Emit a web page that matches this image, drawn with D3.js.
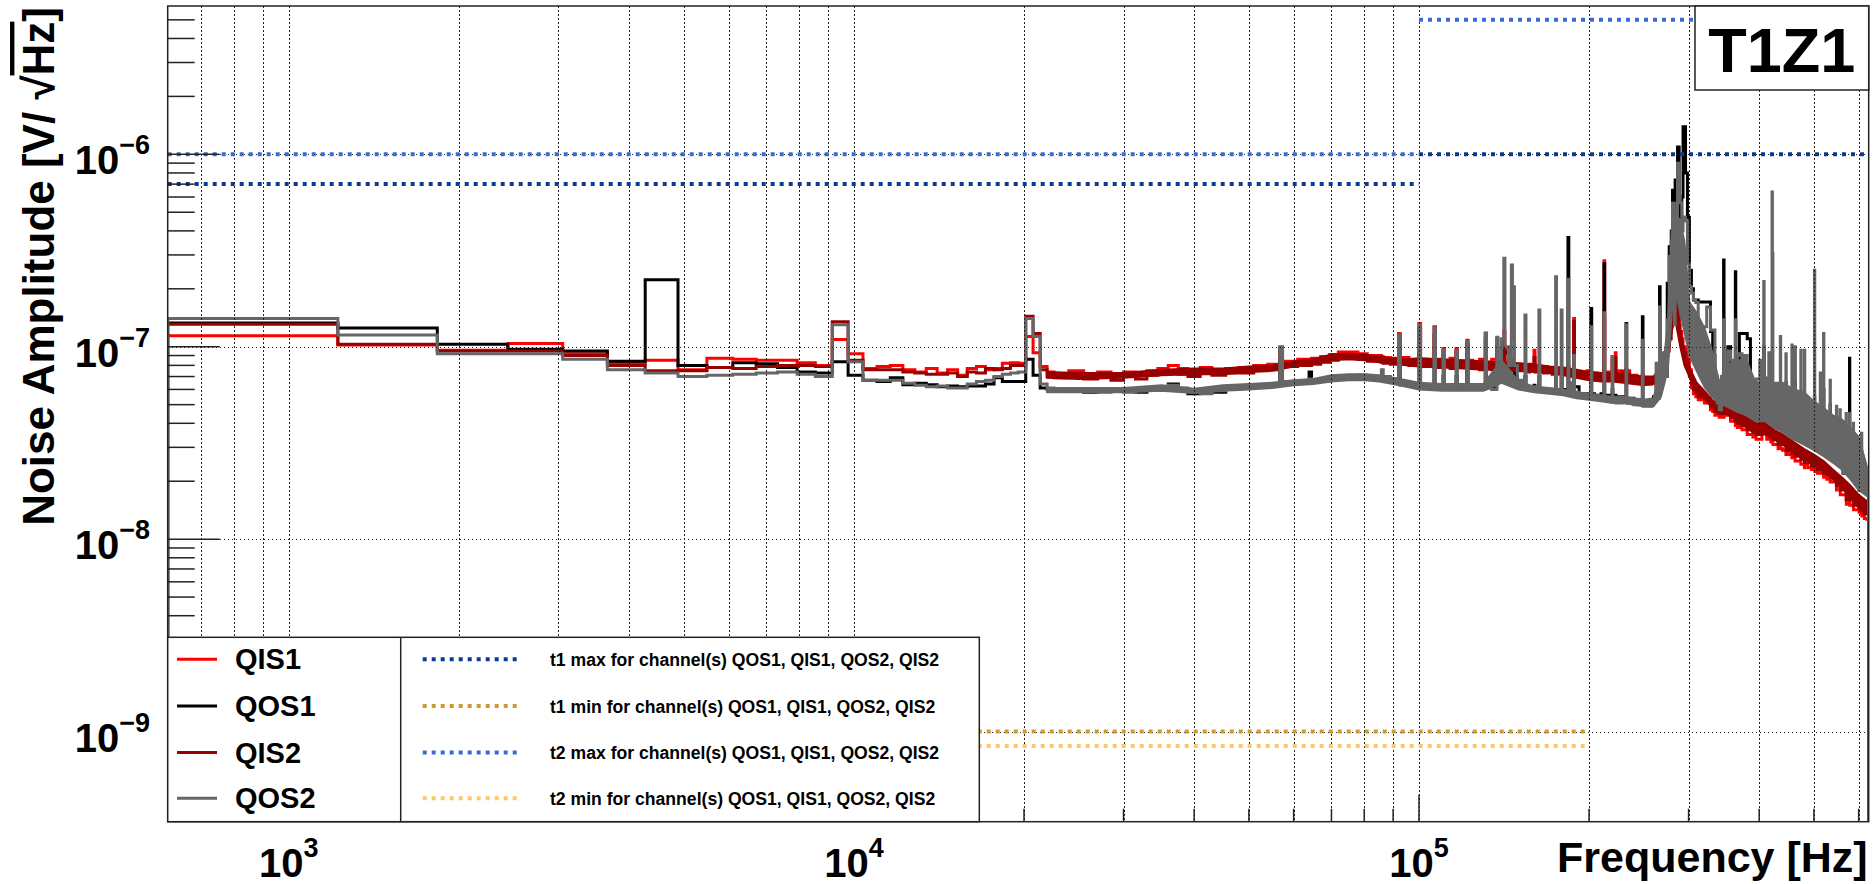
<!DOCTYPE html>
<html>
<head>
<meta charset="utf-8">
<script src="https://cdn.jsdelivr.net/npm/d3@7"></script>
<style>
  html, body { margin: 0; padding: 0; background: #fff; }
  svg { display: block; font-family: "Liberation Sans", Arial, Helvetica, sans-serif; font-weight: bold; }
</style>
</head>
<body>
<div id="vis"></div>
<script>
// Constants for the frame
const FRAME_WIDTH = 1875;
const FRAME_HEIGHT = 884;
const PLOT = {left: 167.7, top: 6, right: 1868.7, bottom: 821.7};

// axis ranges
const F_MIN = 610.35, F_MAX = 625000;
const V_MIN = 3.4e-10, V_MAX = 5.9e-6;
const UNIT = 1e-8; // series values below are in units of 1e-8 V/sqrt(Hz)

// lower edge of each histogram bin [Hz]
const binEdges = [
  610.35, 1221, 1831, 2441, 3052, 3662, 4272, 4883, 5493, 6104,
  6714, 7324, 7935, 8545, 9155, 9766, 10376, 10986, 11597, 12207,
  12817, 13428, 14038, 14648, 15259, 15869, 16479, 17090, 17700, 18310,
  18921, 19531, 20142, 20752, 21362, 21973, 22600, 24000, 25500, 27000,
  28500, 30000, 31500, 33000, 34500, 36000, 37500, 39000, 41000, 43000,
  45500, 48000, 51000, 54000, 56700, 57350, 61000, 63900, 64550, 67000,
  69500, 72000, 75000, 78000, 81000, 85800, 86450, 89000, 92000, 92650,
  96000, 100000, 100650, 103500, 106300, 106950, 110300, 110950, 113500, 116300,
  116950, 121500, 122150, 124500, 128000, 131000, 131650, 134500, 137300, 137950,
  140000, 141300, 141950, 144000, 145700, 146350, 146900, 147550, 149300, 152000,
  154000, 154650, 157000, 159800, 160450, 163000, 163650, 166000, 169000, 172000,
  174500, 175150, 178500, 179150, 181500, 183500, 184150, 185500, 187800, 188450,
  192000, 196000, 198500, 201500, 202150, 204500, 207000, 210000, 212500, 213150,
  216000, 219700, 220350, 222500, 223150, 226000, 229000, 232500, 233150, 236000,
  240000, 243000, 246000, 248500, 249150, 252000, 255000, 258000, 260000, 262800,
  263450, 266500, 267150, 270000, 272500, 275000, 277200, 279500, 281000, 283200,
  284000, 285000, 286800, 288700, 290000, 291800, 293300, 296300, 298600, 301000,
  303500, 306000, 309000, 312000, 316000, 320000, 323000, 328000, 331000, 334000,
  337000, 340000, 343000, 346000, 346650, 349500, 352000, 356000, 360000, 363000,
  363650, 366000, 369000, 373000, 377000, 381000, 386000, 390000, 395000, 401000,
  404500, 407500, 408150, 412500, 416000, 419500, 421500, 422150, 423000, 427500,
  432000, 436000, 436650, 440000, 446000, 446650, 451000, 457000, 457650, 463000,
  463650, 469000, 474000, 474650, 481000, 481650, 488000, 495000, 501000, 501650,
  507000, 513000, 513650, 520000, 520650, 527000, 534000, 534650, 541000, 548000,
  548650, 556000, 556650, 563000, 570000, 570650, 578000, 578650, 587000, 587650,
  595000, 601000, 607000, 607650, 614000, 620000
];

const qis1 = [
  11.4, 10.2, 9.6, 10.4, 9.2, 8.2, 8.5, 7.6, 8.7, 8.6,
  8.5, 8.5, 8.25, 8.0, 10.9, 9.2, 7.7, 7.9, 8.0, 7.6,
  7.4, 7.7, 7.3, 7.6, 7.1, 7.7, 7.9, 7.6, 7.7, 8.2,
  8.25, 8.2, 11.3, 9.3, 7.9, 7.4, 7.2, 7.5, 7.2, 7.4,
  7.1, 7.4, 7.1, 7.5, 7.7, 8.0, 7.7, 7.5, 7.8, 7.6,
  7.7, 7.8, 8.0, 8.1, 9.5, 8.4, 8.6, 8.5, 8.7, 8.9,
  9.1, 9.4, 9.4, 9.2, 9.0, 8.9, 8.8, 8.7, 11.7, 8.8,
  8.5, 13.2, 8.6, 8.4, 12.7, 8.6, 9.8, 8.4, 8.7, 9.8,
  8.4, 10.8, 8.5, 8.2, 8.6, 11.8, 8.3, 8.6, 11.0, 8.3,
  8.4, 12.0, 8.0, 8.2, 8.5, 7.9, 8.1, 7.8, 8.1, 7.8,
  8.0, 7.8, 8.1, 9.6, 7.8, 8.0, 7.7, 7.9, 7.6, 7.8,
  7.7, 7.5, 7.7, 7.4, 7.7, 7.9, 7.4, 7.6, 14.0, 7.3,
  7.4, 7.1, 7.5, 7.2, 7.0, 7.3, 7.0, 7.2, 28.0, 7.1,
  7.4, 8.9, 7.2, 9.3, 7.1, 7.5, 7.2, 7.6, 7.5, 7.0,
  7.1, 6.8, 7.0, 7.1, 6.8, 6.6, 6.8, 6.6, 6.9, 7.1,
  6.9, 8.3, 8.2, 8.8, 9.3, 10.3, 12.5, 16.0, 20.0, 28.0,
  19.0, 18.0, 15.5, 13.0, 12.0, 11.0, 10.0, 9.5, 8.5, 7.6,
  6.1, 5.7, 5.5, 5.3, 5.4, 5.1, 5.2, 4.7, 4.6, 4.4,
  4.5, 4.3, 4.4, 4.3, 4.5, 4.4, 4.9, 4.1, 4.1, 3.9,
  4.0, 3.8, 3.9, 3.7, 3.7, 3.5, 3.5, 3.4, 3.3, 3.3,
  4.6, 4.1, 3.6, 3.3, 3.4, 3.2, 3.5, 3.2, 3.1, 3.1,
  2.95, 3.0, 2.95, 2.9, 2.75, 2.85, 2.75, 2.65, 2.75, 2.55,
  2.55, 2.55, 2.45, 2.45, 2.35, 2.45, 2.35, 2.3, 2.35, 2.25,
  2.2, 2.25, 2.2, 2.1, 2.2, 2.05, 2.0, 1.98, 1.98, 1.8,
  1.9, 1.8, 1.7, 1.7, 1.6, 1.52, 1.56, 1.5, 1.47, 1.42,
  1.42, 1.38, 1.36, 1.32, 1.28, 1.27
];

const qos1 = [
  13.3, 12.5, 10.3, 9.7, 9.5, 8.4, 22.3, 8.0, 7.8, 8.25,
  8.15, 7.8, 7.4, 7.3, 8.35, 7.1, 6.7, 6.6, 6.9, 6.35,
  6.45, 6.35, 6.2, 6.25, 6.2, 6.25, 6.25, 6.4, 6.9, 6.6,
  6.6, 6.6, 8.6, 7.1, 6.1, 6.0, 5.9, 6.0, 5.8, 5.9,
  6.0, 5.9, 5.8, 6.0, 6.1, 6.4, 6.0, 5.7, 5.8, 5.8,
  6.0, 6.1, 6.2, 6.3, 8.5, 6.5, 6.6, 7.4, 6.7, 6.8,
  6.9, 7.0, 7.0, 7.1, 7.0, 7.0, 6.9, 6.8, 8.5, 6.4,
  6.3, 9.0, 6.3, 6.2, 8.0, 6.1, 7.0, 6.1, 6.2, 7.0,
  6.2, 7.5, 6.1, 6.0, 6.1, 8.0, 6.2, 6.1, 7.5, 7.5,
  8.5, 9.6, 9.3, 8.5, 8.0, 7.8, 7.6, 7.0, 6.5, 6.4,
  7.0, 6.2, 6.2, 6.3, 6.1, 7.0, 6.0, 6.0, 6.0, 6.0,
  7.5, 6.0, 7.0, 6.0, 6.0, 37.0, 6.0, 6.3, 7.5, 6.2,
  5.7, 5.6, 5.7, 15.8, 5.7, 5.6, 5.6, 5.7, 27.0, 5.6,
  5.6, 6.0, 5.5, 5.6, 5.5, 5.5, 5.5, 13.2, 5.4, 5.4,
  5.3, 5.3, 5.3, 14.3, 5.2, 5.1, 5.1, 5.3, 5.5, 7.0,
  5.5, 20.5, 7.0, 8.0, 7.0, 21.4, 33.1, 40.0, 65.0, 15.0,
  73.5, 60.0, 109.0, 50.0, 47.0, 60.0, 139.0, 80.0, 47.0, 25.0,
  20.0, 17.5, 17.5, 17.1, 17.1, 17.1, 17.1, 12.0, 9.0, 7.0,
  5.5, 5.3, 5.0, 28.2, 6.0, 6.0, 10.0, 8.0, 6.0, 24.5,
  7.0, 7.0, 11.7, 11.7, 11.7, 11.0, 6.5, 6.3, 6.0, 6.0,
  5.5, 10.0, 4.8, 5.0, 5.5, 4.6, 8.0, 6.0, 4.2, 4.0,
  4.5, 5.5, 4.0, 3.9, 6.5, 3.8, 3.9, 6.0, 3.8, 6.5,
  3.6, 3.5, 5.5, 3.7, 4.0, 3.5, 3.5, 3.4, 5.5, 3.4,
  3.3, 4.5, 3.3, 6.0, 3.4, 3.0, 5.0, 2.9, 2.6, 4.0,
  2.5, 3.8, 2.4, 2.2, 3.5, 2.3, 8.7, 2.2, 3.5, 2.1,
  2.5, 1.8, 2.8, 2.0, 1.9, 1.9
];

const qis2 = [
  13.1, 10.3, 9.5, 9.5, 9.0, 8.0, 7.5, 7.5, 7.8, 7.7,
  7.9, 8.0, 8.0, 7.9, 13.5, 8.5, 7.6, 7.6, 7.6, 7.4,
  7.3, 7.2, 7.2, 7.3, 7.0, 7.4, 7.3, 7.7, 7.6, 7.7,
  8.0, 8.0, 14.4, 11.7, 7.6, 7.0, 6.9, 7.0, 6.8, 7.0,
  6.7, 7.0, 6.8, 7.1, 7.2, 7.4, 7.2, 7.0, 7.3, 7.1,
  7.3, 7.3, 7.5, 7.6, 9.9, 7.9, 8.0, 8.0, 8.1, 8.3,
  8.5, 8.7, 8.8, 8.6, 8.4, 8.3, 8.2, 8.1, 11.0, 8.1,
  8.0, 12.5, 7.9, 8.1, 11.5, 7.8, 9.5, 8.0, 7.7, 9.5,
  8.0, 10.3, 7.7, 7.9, 7.6, 11.0, 7.9, 7.6, 10.0, 7.9,
  7.8, 10.0, 7.9, 7.6, 8.3, 7.8, 7.5, 7.8, 7.5, 7.8,
  7.7, 7.4, 7.8, 8.8, 7.4, 7.6, 7.7, 7.3, 7.6, 7.2,
  7.5, 7.6, 7.3, 7.5, 7.2, 7.6, 7.2, 7.5, 13.5, 7.1,
  7.3, 6.9, 7.2, 7.2, 6.9, 7.2, 6.9, 7.1, 14.0, 7.0,
  7.2, 8.5, 7.0, 8.8, 7.2, 7.0, 7.4, 7.6, 7.2, 7.0,
  6.7, 6.9, 6.6, 6.9, 6.5, 6.7, 6.4, 6.7, 6.5, 6.8,
  6.6, 7.5, 7.4, 8.0, 8.4, 9.5, 11.0, 15.0, 19.0, 20.0,
  16.5, 16.0, 14.0, 12.0, 11.0, 10.0, 9.3, 8.5, 7.8, 7.0,
  6.4, 6.0, 5.8, 5.5, 5.7, 5.4, 5.4, 4.9, 4.8, 4.6,
  4.7, 4.5, 4.6, 4.5, 4.7, 4.6, 4.8, 4.3, 4.3, 4.1,
  4.2, 4.0, 4.1, 3.9, 3.9, 3.7, 3.7, 3.6, 3.5, 3.5,
  4.2, 4.3, 3.8, 3.5, 3.6, 3.4, 3.7, 3.4, 3.3, 3.3,
  3.1, 3.2, 3.1, 3.1, 2.9, 3.0, 2.9, 2.8, 2.9, 2.7,
  2.7, 2.7, 2.6, 2.6, 2.5, 2.6, 2.5, 2.4, 2.5, 2.4,
  2.3, 2.4, 2.3, 2.2, 2.3, 2.2, 2.1, 2.1, 2.1, 1.9,
  2.0, 1.9, 1.8, 1.8, 1.7, 1.6, 1.65, 1.6, 1.55, 1.5,
  1.5, 1.45, 1.45, 1.4, 1.35, 1.35
];

const qos2 = [
  14.0, 11.5, 9.2, 9.2, 8.6, 7.6, 7.3, 7.0, 7.1, 7.2,
  7.3, 7.4, 7.2, 7.0, 13.0, 8.35, 6.7, 6.7, 6.7, 6.45,
  6.3, 6.2, 6.25, 6.1, 6.1, 6.4, 6.6, 6.7, 7.0, 7.2,
  7.3, 7.4, 14.0, 11.3, 6.4, 6.1, 6.0, 5.9, 6.0, 5.8,
  5.9, 5.8, 5.9, 6.1, 6.0, 6.3, 6.1, 5.8, 5.7, 5.9,
  6.0, 6.2, 6.2, 6.4, 10.0, 6.6, 6.5, 6.8, 6.7, 6.7,
  6.9, 6.9, 7.0, 7.0, 6.9, 7.6, 7.0, 6.7, 11.5, 6.3,
  6.4, 13.0, 6.3, 6.2, 12.5, 6.1, 9.6, 6.1, 6.0, 9.6,
  6.2, 10.6, 6.0, 6.1, 6.0, 11.7, 6.1, 6.0, 11.2, 8.0,
  11.0, 28.8, 10.0, 8.0, 26.6, 11.0, 20.5, 8.0, 6.7, 6.3,
  14.6, 6.1, 6.1, 6.2, 6.0, 15.5, 5.9, 5.8, 5.8, 5.9,
  23.1, 5.9, 15.5, 5.8, 5.9, 22.4, 6.5, 6.0, 9.0, 5.8,
  5.6, 5.4, 5.5, 12.7, 5.5, 5.4, 5.4, 5.5, 15.0, 5.4,
  5.3, 8.9, 5.2, 5.4, 5.1, 5.1, 5.2, 13.0, 5.1, 5.1,
  5.0, 5.0, 5.0, 10.8, 4.9, 4.9, 4.9, 5.0, 5.2, 8.2,
  5.4, 16.1, 7.0, 9.3, 7.0, 13.8, 29.4, 35.0, 55.7, 13.0,
  45.0, 45.0, 89.8, 60.0, 56.0, 40.0, 47.3, 45.0, 27.1, 20.5,
  19.0, 17.5, 17.0, 12.7, 12.7, 12.7, 16.1, 12.2, 12.2, 7.0,
  5.1, 4.7, 7.0, 13.8, 5.5, 8.0, 9.5, 8.5, 6.0, 13.8,
  6.0, 9.0, 9.2, 6.7, 9.0, 6.8, 6.5, 6.4, 6.8, 8.5,
  5.8, 21.8, 5.0, 6.2, 9.3, 5.0, 63.8, 30.6, 6.2, 4.8,
  6.0, 11.3, 5.1, 4.5, 9.2, 4.0, 4.5, 10.2, 4.0, 10.0,
  3.8, 3.6, 9.6, 4.0, 9.6, 3.7, 3.6, 3.5, 25.0, 4.5,
  3.4, 7.3, 3.5, 11.7, 3.6, 3.0, 6.7, 3.0, 2.6, 4.9,
  2.6, 4.7, 2.4, 2.2, 4.5, 2.4, 4.5, 2.2, 4.0, 2.1,
  2.5, 1.8, 3.55, 2.0, 1.9, 1.88
];

// above ~22 kHz the bins are only a few pixels wide: the band each dense channel fills
const bandFreq = [
  21973, 25000, 30000, 35000, 40000, 45000, 50000, 55000, 60000, 65000,
  70000, 75000, 80000, 85000, 90000, 95000, 100000, 110000, 120000, 130000,
  140000, 150000, 160000, 170000, 180000, 190000, 200000, 210000, 220000, 230000,
  240000, 250000, 260000, 268000, 272000, 276000, 280000, 284000, 290000, 295000,
  301000, 310000, 320000, 330000, 340000, 350000, 365000, 380000, 395000, 410000,
  425000, 440000, 460000, 480000, 500000, 520000, 540000, 560000, 580000, 600000,
  625000
];
const qis2BandLo = [
  6.9, 6.8, 6.9, 7.1, 7.2, 7.2, 7.4, 7.5, 7.9, 8.1,
  8.5, 8.6, 8.5, 8.3, 8.2, 8.0, 7.9, 7.8, 7.7, 7.6,
  7.6, 7.5, 7.4, 7.3, 7.1, 6.9, 6.7, 6.6, 6.6, 6.5,
  6.4, 6.3, 6.4, 7.0, 7.8, 8.8, 12.0, 14.0, 10.0, 8.0,
  7.0, 5.8, 5.4, 4.8, 4.5, 4.5, 4.1, 3.8, 3.5, 3.5,
  3.3, 3.1, 2.85, 2.6, 2.45, 2.25, 2.05, 1.85, 1.65, 1.45,
  1.35
];
const qis2BandHi = [
  7.4, 7.3, 7.3, 7.6, 7.7, 7.7, 7.9, 8.0, 8.4, 8.6,
  9.1, 9.2, 9.1, 8.9, 8.7, 8.6, 8.7, 8.6, 8.5, 8.4,
  8.3, 8.2, 8.1, 7.9, 7.8, 7.6, 7.4, 7.3, 7.3, 7.2,
  7.1, 7.0, 7.0, 7.8, 8.8, 10.0, 16.0, 19.0, 12.0, 9.5,
  7.8, 6.5, 5.9, 5.3, 5.0, 5.0, 4.6, 4.3, 4.0, 4.0,
  3.7, 3.5, 3.2, 2.95, 2.75, 2.55, 2.3, 2.1, 1.9, 1.7,
  1.55
];
const qos2BandLo = [
  5.8, 5.8, 5.8, 5.9, 5.75, 5.9, 6.0, 6.1, 6.3, 6.4,
  6.6, 6.7, 6.7, 6.6, 6.4, 6.2, 6.0, 5.9, 5.9, 5.9,
  6.5, 6.0, 5.8, 5.7, 5.6, 5.4, 5.3, 5.2, 5.1, 5.1,
  5.0, 4.9, 4.9, 5.5, 6.5, 8.0, 15.0, 20.0, 15.0, 12.0,
  9.0, 7.5, 6.2, 5.5, 5.1, 4.9, 4.6, 4.4, 4.1, 4.1,
  3.8, 3.6, 3.3, 3.1, 2.9, 2.7, 2.5, 2.3, 2.05, 1.8,
  1.65
];
const qos2BandHi = [
  6.1, 6.1, 6.1, 6.3, 6.05, 6.3, 6.4, 6.5, 6.7, 6.8,
  7.1, 7.2, 7.2, 7.1, 6.9, 6.7, 6.5, 6.4, 6.4, 6.4,
  8.5, 6.6, 6.2, 6.1, 6.0, 5.8, 5.7, 5.6, 5.5, 5.5,
  5.4, 5.3, 5.4, 7.5, 9.0, 14.0, 40.0, 50.0, 45.0, 35.0,
  17.0, 15.0, 12.5, 9.5, 6.5, 8.0, 8.5, 8.5, 6.4, 7.0,
  6.5, 6.5, 6.0, 5.8, 5.2, 4.8, 4.4, 4.2, 3.8, 3.4,
  2.2
];

const seriesNames = ["QIS1", "QOS1", "QIS2", "QOS2"];
const seriesColors = ["#ff0000", "#000000", "#990000", "#666666"];
const seriesValues = [qis1, qos1, qis2, qos2];
const seriesBands = [null, null, [qis2BandLo, qis2BandHi], [qos2BandLo, qos2BandHi]];

// threshold lines: [fromHz, toHz, value]
const t1Max = [[F_MIN, 1e5, 7e-7], [1e5, F_MAX, 1e-6]];
const t1Min = [[F_MIN, 2e5, 1e-9]];
const t2Max = [[F_MIN, 1e5, 1e-6], [1e5, F_MAX, 5e-6]];
const t2Min = [[F_MIN, 2e5, 8.4e-10]];
const thresholdNames = ["t1 max", "t1 min", "t2 max", "t2 min"];
const thresholdColors = ["#0a3a94", "#cc9933", "#3a6bd4", "#ffc864"];
const thresholdSegs = [t1Max, t1Min, t2Max, t2Min];
const channelList = "QOS1, QIS1, QOS2, QIS2";

const SVG = d3.select("#vis")
  .append("svg")
  .attr("width", FRAME_WIDTH)
  .attr("height", FRAME_HEIGHT);

const X_SCALE = d3.scaleLog().domain([F_MIN, F_MAX]).range([PLOT.left, PLOT.right]);
const Y_SCALE = d3.scaleLog().domain([V_MIN, V_MAX]).range([PLOT.bottom, PLOT.top]);

const isDecade = v => Math.abs(Math.log10(v) - Math.round(Math.log10(v))) < 1e-6;

SVG.append("clipPath").attr("id", "plotclip")
  .append("rect")
  .attr("x", PLOT.left).attr("y", PLOT.top)
  .attr("width", PLOT.right - PLOT.left).attr("height", PLOT.bottom - PLOT.top);

// histograms, drawn as closed steps like ROOT "HIST"
const histLine = d3.line()
  .x(d => X_SCALE(d[0]))
  .y(d => Y_SCALE(d[1]))
  .curve(d3.curveStepAfter);

const bandArea = d3.area()
  .x((d, i) => X_SCALE(bandFreq[i]))
  .y0(d => Y_SCALE(d[0] * UNIT))
  .y1(d => Y_SCALE(d[1] * UNIT));

function histPoints(vals) {
  const pts = [[F_MIN, V_MIN]];
  vals.forEach((v, i) => pts.push([binEdges[i], v * UNIT]));
  pts.push([F_MAX, vals[vals.length - 1] * UNIT]);
  pts.push([F_MAX, V_MIN]);
  return pts;
}

const histG = SVG.append("g").attr("clip-path", "url(#plotclip)");
seriesValues.forEach((vals, i) => {
  if (seriesBands[i]) {
    const [lo, hi] = seriesBands[i];
    histG.append("path")
      .attr("d", bandArea(lo.map((v, j) => [v, hi[j]])))
      .attr("fill", seriesColors[i])
      .attr("stroke", seriesColors[i])
      .attr("stroke-width", 2);
  }
  histG.append("path")
    .attr("d", histLine(histPoints(vals)))
    .attr("fill", "none")
    .attr("stroke", seriesColors[i])
    .attr("stroke-width", 3)
    .attr("stroke-linejoin", "miter");
});

// grid
const xTicks = X_SCALE.ticks();
const yTicks = Y_SCALE.ticks().filter(v => v >= V_MIN && v <= V_MAX);
const gridG = SVG.append("g")
  .attr("stroke", "#222")
  .attr("stroke-width", 1)
  .attr("stroke-dasharray", "1.5,2.5")
  .attr("shape-rendering", "crispEdges");
gridG.selectAll(".gx").data(xTicks).enter().append("line")
  .attr("x1", d => Math.round(X_SCALE(d)) + 0.5).attr("x2", d => Math.round(X_SCALE(d)) + 0.5)
  .attr("y1", PLOT.top).attr("y2", PLOT.bottom);
gridG.selectAll(".gy").data(yTicks.filter(isDecade)).enter().append("line")
  .attr("x1", PLOT.left).attr("x2", PLOT.right)
  .attr("y1", d => Math.round(Y_SCALE(d)) + 0.5).attr("y2", d => Math.round(Y_SCALE(d)) + 0.5);

// thresholds
const thrG = SVG.append("g").attr("clip-path", "url(#plotclip)");
thresholdSegs.forEach((segs, i) => {
  thrG.selectAll(null).data(segs).enter().append("line")
    .attr("x1", d => X_SCALE(d[0])).attr("x2", d => X_SCALE(d[1]))
    .attr("y1", d => Y_SCALE(d[2])).attr("y2", d => Y_SCALE(d[2]))
    .attr("stroke", thresholdColors[i])
    .attr("stroke-width", 4)
    .attr("stroke-dasharray", "4,5");
});

// frame
SVG.append("rect")
  .attr("x", PLOT.left).attr("y", PLOT.top)
  .attr("width", PLOT.right - PLOT.left).attr("height", PLOT.bottom - PLOT.top)
  .attr("fill", "none").attr("stroke", "#222").attr("stroke-width", 1.5);

// x ticks (inside, pointing up)
const tickG = SVG.append("g").attr("stroke", "#222").attr("stroke-width", 1.5);
tickG.selectAll(".tx").data(xTicks).enter().append("line")
  .attr("x1", d => X_SCALE(d)).attr("x2", d => X_SCALE(d))
  .attr("y1", PLOT.bottom).attr("y2", d => PLOT.bottom - (isDecade(d) ? 27 : 13));
// y ticks (inside, pointing right)
tickG.selectAll(".ty").data(yTicks).enter().append("line")
  .attr("y1", d => Y_SCALE(d)).attr("y2", d => Y_SCALE(d))
  .attr("x1", PLOT.left).attr("x2", d => PLOT.left + (isDecade(d) ? 52 : 27));

// tick labels
xTicks.filter(isDecade).forEach(d => {
  const t = SVG.append("text")
    .attr("x", X_SCALE(d)).attr("y", 877)
    .attr("text-anchor", "middle").attr("font-size", 40);
  t.append("tspan").text("10");
  t.append("tspan").attr("dy", -20).attr("font-size", 27).text(Math.round(Math.log10(d)));
});
yTicks.filter(isDecade).forEach(d => {
  const t = SVG.append("text")
    .attr("x", 150).attr("y", Y_SCALE(d) + 20)
    .attr("text-anchor", "end").attr("font-size", 40);
  t.append("tspan").text("10");
  t.append("tspan").attr("dy", -20).attr("font-size", 27)
    .text("\u2212" + Math.abs(Math.round(Math.log10(d))));
});

// axis titles
SVG.append("text")
  .attr("x", PLOT.right - 1).attr("y", 872)
  .attr("text-anchor", "end").attr("font-size", 43)
  .text("Frequency [Hz]");

const yTitle = SVG.append("text")
  .attr("transform", "translate(54," + (PLOT.top + 1) + ") rotate(-90)")
  .attr("text-anchor", "end").attr("font-size", 44);
yTitle.append("tspan").text("Noise Amplitude [V/ \u221A");
yTitle.append("tspan").style("text-decoration", "overline").text("Hz");
yTitle.append("tspan").text("]");

// legend
const LEG = {x0: 167.7, x1: 979.3, xm: 400.7, y0: 637.3, y1: 821.7};
const legendRows = [659.3, 706, 752.5, 798.3];
SVG.append("rect")
  .attr("x", LEG.x0).attr("y", LEG.y0)
  .attr("width", LEG.x1 - LEG.x0).attr("height", LEG.y1 - LEG.y0)
  .attr("fill", "#fff").attr("stroke", "#222").attr("stroke-width", 1.5);
SVG.append("line")
  .attr("x1", LEG.xm).attr("x2", LEG.xm).attr("y1", LEG.y0).attr("y2", LEG.y1)
  .attr("stroke", "#222").attr("stroke-width", 1.5);

seriesNames.forEach((name, i) => {
  SVG.append("line")
    .attr("x1", 177).attr("x2", 217)
    .attr("y1", legendRows[i]).attr("y2", legendRows[i])
    .attr("stroke", seriesColors[i]).attr("stroke-width", 3);
  SVG.append("text")
    .attr("x", 235).attr("y", legendRows[i] + 10)
    .attr("font-size", 29)
    .text(name);
});

thresholdNames.forEach((name, i) => {
  SVG.append("line")
    .attr("x1", 422.7).attr("x2", 521.7)
    .attr("y1", legendRows[i]).attr("y2", legendRows[i])
    .attr("stroke", thresholdColors[i]).attr("stroke-width", 4)
    .attr("stroke-dasharray", "4,5");
  SVG.append("text")
    .attr("x", 550).attr("y", legendRows[i] + 6.5)
    .attr("font-size", 17.6)
    .text(name + " for channel(s) " + channelList);
});

// title box
SVG.append("rect")
  .attr("x", 1695).attr("y", PLOT.top)
  .attr("width", PLOT.right - 1695).attr("height", 84)
  .attr("fill", "#fff").attr("stroke", "#222").attr("stroke-width", 1.5);
SVG.append("text")
  .attr("x", (1695 + PLOT.right) / 2).attr("y", 72)
  .attr("text-anchor", "middle").attr("font-size", 63)
  .text("T1Z1");
</script>
</body>
</html>
